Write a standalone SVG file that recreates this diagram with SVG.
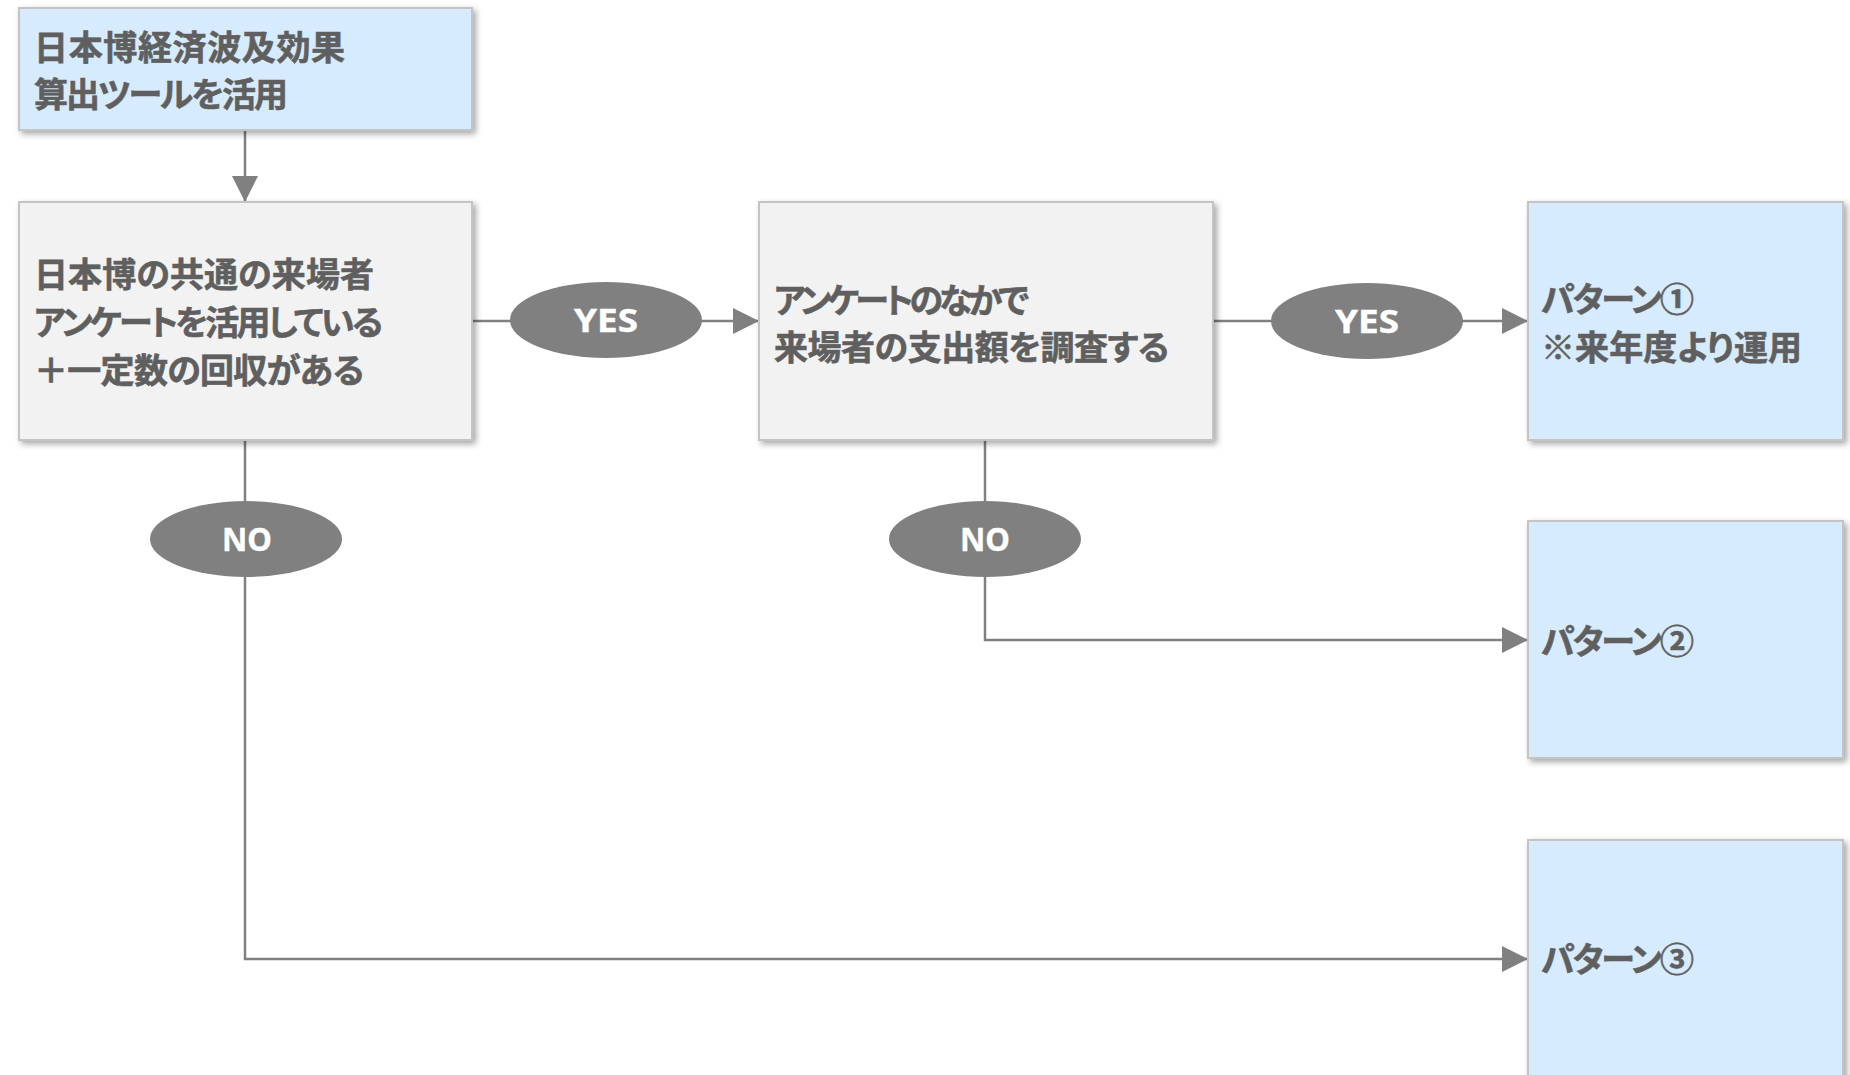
<svg xmlns="http://www.w3.org/2000/svg" width="1850" height="1075" viewBox="0 0 1850 1075">
<style>
.box{stroke:#c4c4c4;stroke-width:2;filter:url(#sh)}
.blue{fill:#d6ebfd}
.gray{fill:#f2f2f2}
.t{font-family:"Noto Sans CJK JP","Noto Sans",sans-serif;font-weight:700;font-size:34px;fill:#5f5f5f;stroke:#5f5f5f;stroke-width:0.6;font-feature-settings:"palt"}
.lbl{font-family:"Noto Sans","Open Sans",sans-serif;font-weight:700;font-size:33px;fill:#ffffff;stroke:#ffffff;stroke-width:0.4;text-anchor:middle}
.ell{fill:#808080}
.ln{fill:none;stroke:#808080;stroke-width:2.5}
</style>
<defs>
<filter id="sh" x="-10%" y="-10%" width="120%" height="120%">
<feDropShadow dx="3" dy="3" stdDeviation="3" flood-color="#000" flood-opacity="0.35"/>
</filter>
<marker id="ah" markerUnits="userSpaceOnUse" markerWidth="26" markerHeight="26" viewBox="0 0 26 26" refX="26" refY="13" orient="auto">
<path d="M0,0 L26,13 L0,26 Z" fill="#808080"/>
</marker>
</defs>
<g id="connectors">
<path class="ln" d="M245,130 L245,202" marker-end="url(#ah)"/>
<path class="ln" d="M472,321 L759,321" marker-end="url(#ah)"/>
<path class="ln" d="M1213,321 L1528,321" marker-end="url(#ah)"/>
<path class="ln" d="M245,440 L245,959 L1528,959" marker-end="url(#ah)"/>
<path class="ln" d="M985,440 L985,640 L1528,640" marker-end="url(#ah)"/>
</g>
<g id="node-start">
<rect class="box blue" x="19" y="8" width="453" height="122"/>
<text class="t" x="34" y="60" textLength="311" lengthAdjust="spacing">日本博経済波及効果</text>
<text class="t" x="34" y="107" textLength="254" lengthAdjust="spacing">算出ツールを活用</text>
</g>
<g id="node-q1">
<rect class="box gray" x="19" y="202" width="453" height="238"/>
<text class="t" x="34" y="287" textLength="340" lengthAdjust="spacing">日本博の共通の来場者</text>
<text class="t" x="34" y="335" textLength="349" lengthAdjust="spacing">アンケートを活用している</text>
<text class="t" x="34" y="383" textLength="330" lengthAdjust="spacing">＋一定数の回収がある</text>
</g>
<g id="node-q2">
<rect class="box gray" x="759" y="202" width="454" height="238"/>
<text class="t" x="774" y="313" textLength="255" lengthAdjust="spacing">アンケートのなかで</text>
<text class="t" x="774" y="360" textLength="395" lengthAdjust="spacing">来場者の支出額を調査する</text>
</g>
<g id="node-p1">
<rect class="box blue" x="1528" y="202" width="315" height="238"/>
<text class="t" x="1541" y="312" textLength="153" lengthAdjust="spacing">パターン①</text>
<text class="t" x="1541" y="360" textLength="261" lengthAdjust="spacing">※来年度より運用</text>
</g>
<g id="node-p2">
<rect class="box blue" x="1528" y="521" width="315" height="237"/>
<text class="t" x="1541" y="654" textLength="153" lengthAdjust="spacing">パターン②</text>
</g>
<g id="node-p3">
<rect class="box blue" x="1528" y="840" width="315" height="245"/>
<text class="t" x="1541" y="972" textLength="153" lengthAdjust="spacing">パターン③</text>
</g>
<g id="label-yes1">
<ellipse class="ell" cx="606" cy="320" rx="96" ry="38"/>
<text class="lbl" x="606" y="332" textLength="64" lengthAdjust="spacingAndGlyphs">YES</text>
</g>
<g id="label-yes2">
<ellipse class="ell" cx="1367" cy="321" rx="96" ry="38"/>
<text class="lbl" x="1367" y="333" textLength="64" lengthAdjust="spacingAndGlyphs">YES</text>
</g>
<g id="label-no1">
<ellipse class="ell" cx="246" cy="539" rx="96" ry="38"/>
<text class="lbl" x="247" y="551" textLength="50" lengthAdjust="spacingAndGlyphs">NO</text>
</g>
<g id="label-no2">
<ellipse class="ell" cx="985" cy="539" rx="96" ry="38"/>
<text class="lbl" x="985" y="551" textLength="50" lengthAdjust="spacingAndGlyphs">NO</text>
</g>
</svg>
